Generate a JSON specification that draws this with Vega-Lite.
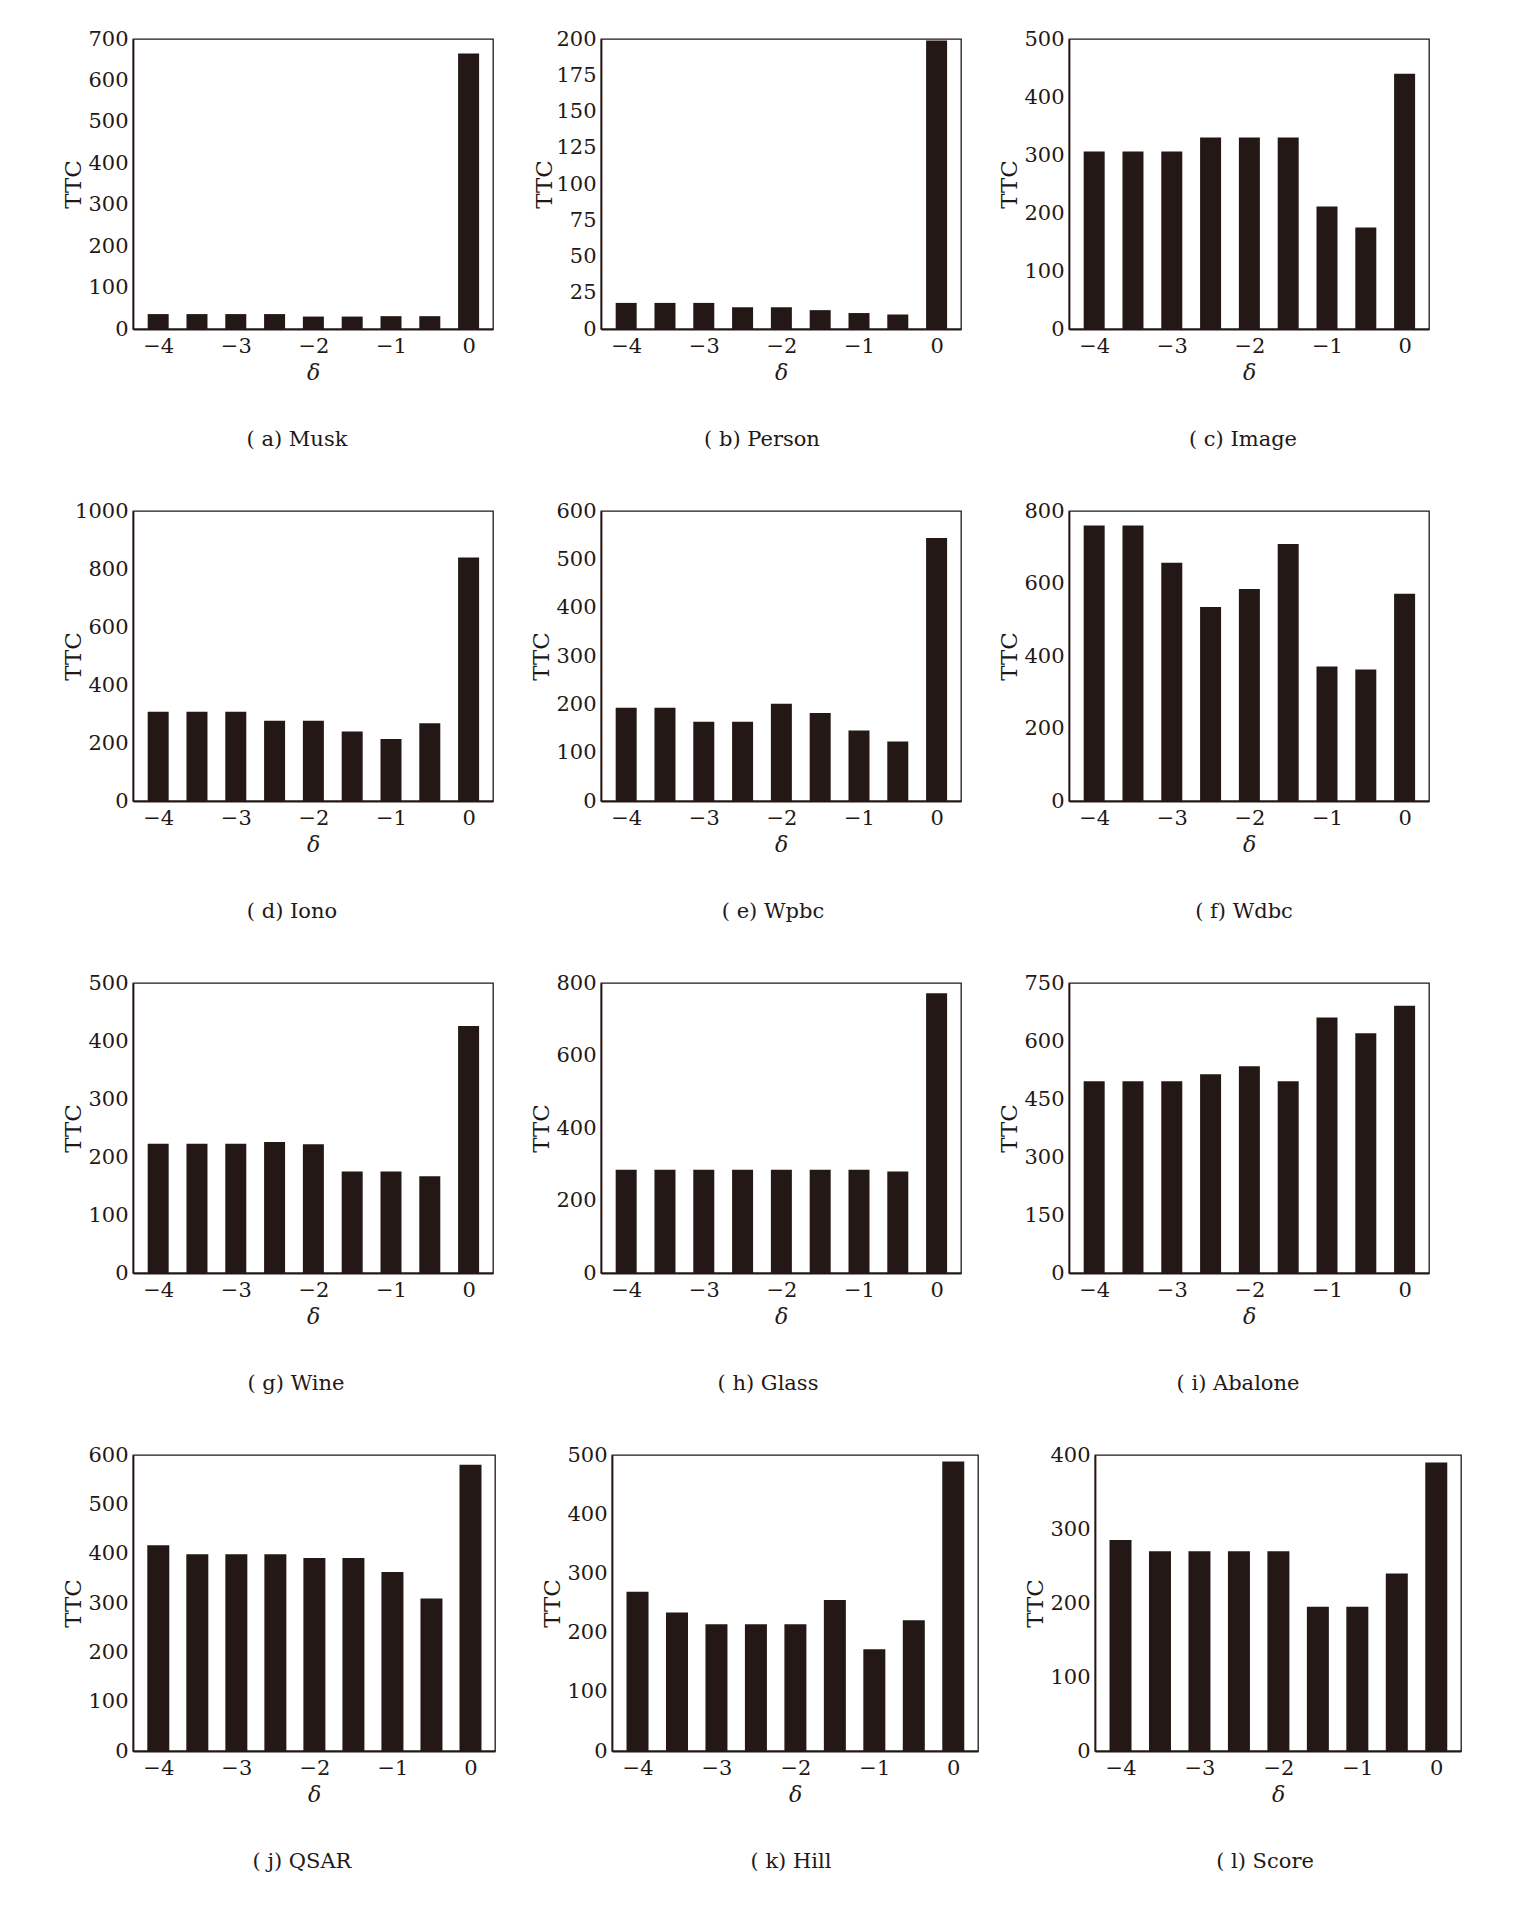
{
  "$schema": "https://vega.github.io/schema/vega-lite/v6.json",
  "padding": {"left": 61, "top": 27, "right": 5, "bottom": 5},
  "background": "white",
  "datasets": {
    "ttc": [
      {"panel": "a", "delta": -4, "ttc": 36}, {"panel": "a", "delta": -3.5, "ttc": 36}, {"panel": "a", "delta": -3, "ttc": 36},
      {"panel": "a", "delta": -2.5, "ttc": 36}, {"panel": "a", "delta": -2, "ttc": 30}, {"panel": "a", "delta": -1.5, "ttc": 30},
      {"panel": "a", "delta": -1, "ttc": 31}, {"panel": "a", "delta": -0.5, "ttc": 31}, {"panel": "a", "delta": 0, "ttc": 665},
      {"panel": "b", "delta": -4, "ttc": 18}, {"panel": "b", "delta": -3.5, "ttc": 18}, {"panel": "b", "delta": -3, "ttc": 18},
      {"panel": "b", "delta": -2.5, "ttc": 15}, {"panel": "b", "delta": -2, "ttc": 15}, {"panel": "b", "delta": -1.5, "ttc": 13},
      {"panel": "b", "delta": -1, "ttc": 11}, {"panel": "b", "delta": -0.5, "ttc": 10}, {"panel": "b", "delta": 0, "ttc": 199},
      {"panel": "c", "delta": -4, "ttc": 306}, {"panel": "c", "delta": -3.5, "ttc": 306}, {"panel": "c", "delta": -3, "ttc": 306},
      {"panel": "c", "delta": -2.5, "ttc": 330}, {"panel": "c", "delta": -2, "ttc": 330}, {"panel": "c", "delta": -1.5, "ttc": 330},
      {"panel": "c", "delta": -1, "ttc": 211}, {"panel": "c", "delta": -0.5, "ttc": 175}, {"panel": "c", "delta": 0, "ttc": 440},
      {"panel": "d", "delta": -4, "ttc": 308}, {"panel": "d", "delta": -3.5, "ttc": 308}, {"panel": "d", "delta": -3, "ttc": 308},
      {"panel": "d", "delta": -2.5, "ttc": 277}, {"panel": "d", "delta": -2, "ttc": 277}, {"panel": "d", "delta": -1.5, "ttc": 240},
      {"panel": "d", "delta": -1, "ttc": 214}, {"panel": "d", "delta": -0.5, "ttc": 268}, {"panel": "d", "delta": 0, "ttc": 840},
      {"panel": "e", "delta": -4, "ttc": 193}, {"panel": "e", "delta": -3.5, "ttc": 193}, {"panel": "e", "delta": -3, "ttc": 164},
      {"panel": "e", "delta": -2.5, "ttc": 164}, {"panel": "e", "delta": -2, "ttc": 201}, {"panel": "e", "delta": -1.5, "ttc": 182},
      {"panel": "e", "delta": -1, "ttc": 146}, {"panel": "e", "delta": -0.5, "ttc": 123}, {"panel": "e", "delta": 0, "ttc": 544},
      {"panel": "f", "delta": -4, "ttc": 760}, {"panel": "f", "delta": -3.5, "ttc": 760}, {"panel": "f", "delta": -3, "ttc": 657},
      {"panel": "f", "delta": -2.5, "ttc": 535}, {"panel": "f", "delta": -2, "ttc": 585}, {"panel": "f", "delta": -1.5, "ttc": 709},
      {"panel": "f", "delta": -1, "ttc": 371}, {"panel": "f", "delta": -0.5, "ttc": 363}, {"panel": "f", "delta": 0, "ttc": 572},
      {"panel": "g", "delta": -4, "ttc": 223}, {"panel": "g", "delta": -3.5, "ttc": 223}, {"panel": "g", "delta": -3, "ttc": 223},
      {"panel": "g", "delta": -2.5, "ttc": 226}, {"panel": "g", "delta": -2, "ttc": 222}, {"panel": "g", "delta": -1.5, "ttc": 175},
      {"panel": "g", "delta": -1, "ttc": 175}, {"panel": "g", "delta": -0.5, "ttc": 167}, {"panel": "g", "delta": 0, "ttc": 426},
      {"panel": "h", "delta": -4, "ttc": 285}, {"panel": "h", "delta": -3.5, "ttc": 285}, {"panel": "h", "delta": -3, "ttc": 285},
      {"panel": "h", "delta": -2.5, "ttc": 285}, {"panel": "h", "delta": -2, "ttc": 285}, {"panel": "h", "delta": -1.5, "ttc": 285},
      {"panel": "h", "delta": -1, "ttc": 285}, {"panel": "h", "delta": -0.5, "ttc": 280}, {"panel": "h", "delta": 0, "ttc": 772},
      {"panel": "i", "delta": -4, "ttc": 496}, {"panel": "i", "delta": -3.5, "ttc": 496}, {"panel": "i", "delta": -3, "ttc": 496},
      {"panel": "i", "delta": -2.5, "ttc": 514}, {"panel": "i", "delta": -2, "ttc": 535}, {"panel": "i", "delta": -1.5, "ttc": 496},
      {"panel": "i", "delta": -1, "ttc": 661}, {"panel": "i", "delta": -0.5, "ttc": 620}, {"panel": "i", "delta": 0, "ttc": 691},
      {"panel": "j", "delta": -4, "ttc": 417}, {"panel": "j", "delta": -3.5, "ttc": 399}, {"panel": "j", "delta": -3, "ttc": 399},
      {"panel": "j", "delta": -2.5, "ttc": 399}, {"panel": "j", "delta": -2, "ttc": 391}, {"panel": "j", "delta": -1.5, "ttc": 391},
      {"panel": "j", "delta": -1, "ttc": 363}, {"panel": "j", "delta": -0.5, "ttc": 309}, {"panel": "j", "delta": 0, "ttc": 580},
      {"panel": "k", "delta": -4, "ttc": 269}, {"panel": "k", "delta": -3.5, "ttc": 234}, {"panel": "k", "delta": -3, "ttc": 214},
      {"panel": "k", "delta": -2.5, "ttc": 214}, {"panel": "k", "delta": -2, "ttc": 214}, {"panel": "k", "delta": -1.5, "ttc": 255},
      {"panel": "k", "delta": -1, "ttc": 172}, {"panel": "k", "delta": -0.5, "ttc": 221}, {"panel": "k", "delta": 0, "ttc": 489},
      {"panel": "l", "delta": -4, "ttc": 285}, {"panel": "l", "delta": -3.5, "ttc": 270}, {"panel": "l", "delta": -3, "ttc": 270},
      {"panel": "l", "delta": -2.5, "ttc": 270}, {"panel": "l", "delta": -2, "ttc": 270}, {"panel": "l", "delta": -1.5, "ttc": 195},
      {"panel": "l", "delta": -1, "ttc": 195}, {"panel": "l", "delta": -0.5, "ttc": 240}, {"panel": "l", "delta": 0, "ttc": 390}
    ]
  },
  "spacing": 48,
  "vconcat": [
    {
      "bounds": "flush",
      "spacing": 108,
      "hconcat": [
        {
          "width": 360, "height": 290,
          "data": {"name": "ttc"},
          "transform": [{"filter": "datum.panel === 'a'"}],
          "title": {"text": "( a) Musk", "dx": -16},
          "mark": {"type": "bar", "width": 21},
          "encoding": {
            "x": {"field": "delta", "type": "quantitative", "scale": {"domain": [-4.26, 0.25], "nice": false}, "axis": {"title": "δ", "values": [-4, -3, -2, -1, 0]}},
            "y": {"field": "ttc", "type": "quantitative", "scale": {"domain": [0, 700], "nice": false}, "axis": {"title": "TTC", "values": [0, 100, 200, 300, 400, 500, 600, 700]}}
          }
        },
        {
          "width": 360, "height": 290,
          "data": {"name": "ttc"},
          "transform": [{"filter": "datum.panel === 'b'"}],
          "title": {"text": "( b) Person", "dx": -19},
          "mark": {"type": "bar", "width": 21},
          "encoding": {
            "x": {"field": "delta", "type": "quantitative", "scale": {"domain": [-4.26, 0.25], "nice": false}, "axis": {"title": "δ", "values": [-4, -3, -2, -1, 0]}},
            "y": {"field": "ttc", "type": "quantitative", "scale": {"domain": [0, 200], "nice": false}, "axis": {"title": "TTC", "titleX": -57, "values": [0, 25, 50, 75, 100, 125, 150, 175, 200]}}
          }
        },
        {
          "width": 360, "height": 290,
          "data": {"name": "ttc"},
          "transform": [{"filter": "datum.panel === 'c'"}],
          "title": {"text": "( c) Image", "dx": -6},
          "mark": {"type": "bar", "width": 21},
          "encoding": {
            "x": {"field": "delta", "type": "quantitative", "scale": {"domain": [-4.26, 0.25], "nice": false}, "axis": {"title": "δ", "values": [-4, -3, -2, -1, 0]}},
            "y": {"field": "ttc", "type": "quantitative", "scale": {"domain": [0, 500], "nice": false}, "axis": {"title": "TTC", "values": [0, 100, 200, 300, 400, 500]}}
          }
        }
      ]
    },
    {
      "bounds": "flush",
      "spacing": 108,
      "hconcat": [
        {
          "width": 360, "height": 290,
          "data": {"name": "ttc"},
          "transform": [{"filter": "datum.panel === 'd'"}],
          "title": {"text": "( d) Iono", "dx": -21},
          "mark": {"type": "bar", "width": 21},
          "encoding": {
            "x": {"field": "delta", "type": "quantitative", "scale": {"domain": [-4.26, 0.25], "nice": false}, "axis": {"title": "δ", "values": [-4, -3, -2, -1, 0]}},
            "y": {"field": "ttc", "type": "quantitative", "scale": {"domain": [0, 1000], "nice": false}, "axis": {"title": "TTC", "values": [0, 200, 400, 600, 800, 1000]}}
          }
        },
        {
          "width": 360, "height": 290,
          "data": {"name": "ttc"},
          "transform": [{"filter": "datum.panel === 'e'"}],
          "title": {"text": "( e) Wpbc", "dx": -8},
          "mark": {"type": "bar", "width": 21},
          "encoding": {
            "x": {"field": "delta", "type": "quantitative", "scale": {"domain": [-4.26, 0.25], "nice": false}, "axis": {"title": "δ", "values": [-4, -3, -2, -1, 0]}},
            "y": {"field": "ttc", "type": "quantitative", "scale": {"domain": [0, 600], "nice": false}, "axis": {"title": "TTC", "values": [0, 100, 200, 300, 400, 500, 600]}}
          }
        },
        {
          "width": 360, "height": 290,
          "data": {"name": "ttc"},
          "transform": [{"filter": "datum.panel === 'f'"}],
          "title": {"text": "( f) Wdbc", "dx": -5},
          "mark": {"type": "bar", "width": 21},
          "encoding": {
            "x": {"field": "delta", "type": "quantitative", "scale": {"domain": [-4.26, 0.25], "nice": false}, "axis": {"title": "δ", "values": [-4, -3, -2, -1, 0]}},
            "y": {"field": "ttc", "type": "quantitative", "scale": {"domain": [0, 800], "nice": false}, "axis": {"title": "TTC", "values": [0, 200, 400, 600, 800]}}
          }
        }
      ]
    },
    {
      "bounds": "flush",
      "spacing": 108,
      "hconcat": [
        {
          "width": 360, "height": 290,
          "data": {"name": "ttc"},
          "transform": [{"filter": "datum.panel === 'g'"}],
          "title": {"text": "( g) Wine", "dx": -17},
          "mark": {"type": "bar", "width": 21},
          "encoding": {
            "x": {"field": "delta", "type": "quantitative", "scale": {"domain": [-4.26, 0.25], "nice": false}, "axis": {"title": "δ", "values": [-4, -3, -2, -1, 0]}},
            "y": {"field": "ttc", "type": "quantitative", "scale": {"domain": [0, 500], "nice": false}, "axis": {"title": "TTC", "values": [0, 100, 200, 300, 400, 500]}}
          }
        },
        {
          "width": 360, "height": 290,
          "data": {"name": "ttc"},
          "transform": [{"filter": "datum.panel === 'h'"}],
          "title": {"text": "( h) Glass", "dx": -13},
          "mark": {"type": "bar", "width": 21},
          "encoding": {
            "x": {"field": "delta", "type": "quantitative", "scale": {"domain": [-4.26, 0.25], "nice": false}, "axis": {"title": "δ", "values": [-4, -3, -2, -1, 0]}},
            "y": {"field": "ttc", "type": "quantitative", "scale": {"domain": [0, 800], "nice": false}, "axis": {"title": "TTC", "values": [0, 200, 400, 600, 800]}}
          }
        },
        {
          "width": 360, "height": 290,
          "data": {"name": "ttc"},
          "transform": [{"filter": "datum.panel === 'i'"}],
          "title": {"text": "( i) Abalone", "dx": -11},
          "mark": {"type": "bar", "width": 21},
          "encoding": {
            "x": {"field": "delta", "type": "quantitative", "scale": {"domain": [-4.26, 0.25], "nice": false}, "axis": {"title": "δ", "values": [-4, -3, -2, -1, 0]}},
            "y": {"field": "ttc", "type": "quantitative", "scale": {"domain": [0, 750], "nice": false}, "axis": {"title": "TTC", "values": [0, 150, 300, 450, 600, 750]}}
          }
        }
      ]
    },
    {
      "bounds": "flush",
      "spacing": 117,
      "hconcat": [
        {
          "width": 362, "height": 296,
          "data": {"name": "ttc"},
          "transform": [{"filter": "datum.panel === 'j'"}],
          "title": {"text": "( j) QSAR", "dx": -12},
          "mark": {"type": "bar", "width": 22},
          "encoding": {
            "x": {"field": "delta", "type": "quantitative", "scale": {"domain": [-4.26, 0.25], "nice": false}, "axis": {"title": "δ", "values": [-4, -3, -2, -1, 0]}},
            "y": {"field": "ttc", "type": "quantitative", "scale": {"domain": [0, 600], "nice": false}, "axis": {"title": "TTC", "values": [0, 100, 200, 300, 400, 500, 600]}}
          }
        },
        {
          "width": 366, "height": 296,
          "data": {"name": "ttc"},
          "transform": [{"filter": "datum.panel === 'k'"}],
          "title": {"text": "( k) Hill", "dx": -4},
          "mark": {"type": "bar", "width": 22},
          "encoding": {
            "x": {"field": "delta", "type": "quantitative", "scale": {"domain": [-4.26, 0.25], "nice": false}, "axis": {"title": "δ", "values": [-4, -3, -2, -1, 0]}},
            "y": {"field": "ttc", "type": "quantitative", "scale": {"domain": [0, 500], "nice": false}, "axis": {"title": "TTC", "values": [0, 100, 200, 300, 400, 500]}}
          }
        },
        {
          "width": 366, "height": 296,
          "data": {"name": "ttc"},
          "transform": [{"filter": "datum.panel === 'l'"}],
          "title": {"text": "( l) Score", "dx": -13},
          "mark": {"type": "bar", "width": 22},
          "encoding": {
            "x": {"field": "delta", "type": "quantitative", "scale": {"domain": [-4.26, 0.25], "nice": false}, "axis": {"title": "δ", "values": [-4, -3, -2, -1, 0]}},
            "y": {"field": "ttc", "type": "quantitative", "scale": {"domain": [0, 400], "nice": false}, "axis": {"title": "TTC", "values": [0, 100, 200, 300, 400]}}
          }
        }
      ]
    }
  ],
  "config": {
    "font": "DejaVu Serif",
    "view": {"stroke": "#231815", "strokeWidth": 1.3},
    "bar": {"color": "#231815"},
    "axis": {
      "grid": false, "ticks": false, "tickSize": 0,
      "domainColor": "#231815", "domainWidth": 1.8,
      "labelFont": "DejaVu Serif", "labelFontSize": 21, "labelColor": "#231815",
      "labelFlush": false, "labelOverlap": false, "format": "d",
      "titleFont": "DejaVu Serif", "titleColor": "#231815", "titleFontWeight": "normal"
    },
    "axisX": {"labelPadding": 6, "titleFontSize": 22, "titleFontStyle": "italic", "titlePadding": 6},
    "axisY": {"labelPadding": 5, "titleFontSize": 23, "titleX": -60, "titleBaseline": "middle"},
    "title": {
      "orient": "bottom", "frame": "group", "anchor": "middle", "baseline": "middle",
      "offset": 46, "fontSize": 21, "fontWeight": "normal", "color": "#231815", "font": "DejaVu Serif"
    }
  }
}
